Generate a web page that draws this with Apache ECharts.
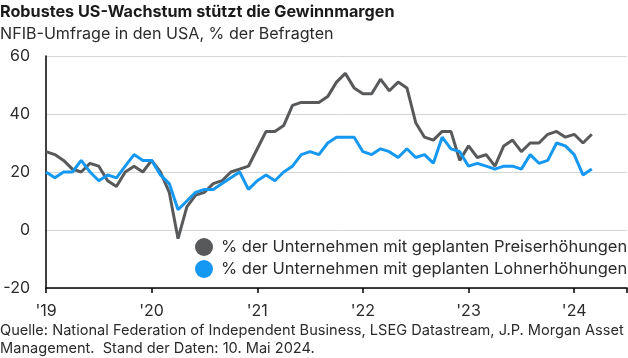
<!DOCTYPE html>
<html><head><meta charset="utf-8">
<script src="https://cdn.jsdelivr.net/npm/echarts@6/dist/echarts.min.js"></script>
<style>html,body{margin:0;padding:0;background:#fff}#c{width:628px;height:358px}</style>
</head><body><div id="c"></div>
<script>
// Monthly data, Jan 2019 .. Mar 2024
const yearLabels = ["'19", "'20", "'21", "'22", "'23", "'24"];
const priceHikes = [
  27, 26, 24, 21, 20, 23, 22, 17, 15, 20, 22, 20,
  24, 20, 13, -3, 8, 12, 13, 16, 17, 20, 21, 22,
  28, 34, 34, 36, 43, 44, 44, 44, 46, 51, 54, 49,
  47, 47, 52, 48, 51, 49, 37, 32, 31, 34, 34, 24,
  29, 25, 26, 22, 29, 31, 27, 30, 30, 33, 34, 32,
  33, 30, 33
];
const wageHikes = [
  20, 18, 20, 20, 24, 20, 17, 19, 18, 22, 26, 24,
  24, 19, 16, 7, 10, 13, 14, 14, 16, 18, 20, 14,
  17, 19, 17, 20, 22, 26, 27, 26, 30, 32, 32, 32,
  27, 26, 28, 27, 25, 28, 25, 26, 23, 32, 28, 27,
  22, 23, 22, 21, 22, 22, 21, 26, 23, 24, 30, 29,
  26, 19, 21
];
const seriesNames = [
  '% der Unternehmen mit geplanten Preiserhöhungen',
  '% der Unternehmen mit geplanten Lohnerhöhungen'
];
const titleText = 'Robustes US-Wachstum stützt die Gewinnmargen';
const subtitleText = 'NFIB-Umfrage in den USA, % der Befragten';
const sourceLines = [
  'Quelle: National Federation of Independent Business, LSEG Datastream, J.P. Morgan Asset',
  'Management.  Stand der Daten: 10. Mai 2024.'
];

const FONT = 'Inter';
const GRAY = '#58595b';
const BLUE = '#1598f2';
const TXT = '#2b2b2b';

const toPairs = arr => arr.map((v, i) => [i, v]);

const chart = echarts.init(document.getElementById('c'), null, {renderer: 'canvas'});
chart.setOption({
  animation: false,
  backgroundColor: '#fff',
  textStyle: {fontFamily: FONT},
  title: [
    {text: titleText, left: 0, top: 4, padding: 0, textStyle: {fontFamily: FONT, fontSize: 16.2, fontWeight: 'bold', color: '#1a1a1a'}},
    {text: subtitleText, left: 0, top: 26, padding: 0, textStyle: {fontFamily: FONT, fontSize: 16.1, fontWeight: 'normal', color: TXT}}
  ],
  grid: {left: 46, right: 1, top: 56, bottom: 70, containLabel: false},
  legend: {
    orient: 'vertical', left: 195, top: 238, padding: 0, itemWidth: 18, itemHeight: 18, itemGap: 4,
    icon: 'circle', textStyle: {fontFamily: FONT, fontSize: 16.5, color: TXT, padding: [0, 0, 0, 3]},
    data: seriesNames
  },
  xAxis: [
    {type: 'value', min: 0, max: 66, interval: 12, position: 'bottom',
     axisLine: {show: false}, axisTick: {show: false}, splitLine: {show: false},
     axisLabel: {fontFamily: FONT, fontSize: 16, color: TXT, margin: 15,
       showMaxLabel: false,
       formatter: v => yearLabels[Math.round(v / 12)] || ''}},
    {type: 'value', min: 0, max: 66, interval: 12, position: 'bottom',
     axisLine: {show: true, onZero: true, lineStyle: {color: '#000', width: 1.5}},
     axisTick: {show: true, inside: false, length: 5, lineStyle: {color: '#000', width: 1.5}},
     axisLabel: {show: false}, splitLine: {show: false}}
  ],
  yAxis: {
    type: 'value', min: -20, max: 60, interval: 20,
    axisLine: {show: true, lineStyle: {color: '#000', width: 1.5}},
    axisTick: {show: false},
    axisLabel: {fontFamily: FONT, fontSize: 16, color: TXT, margin: 16},
    splitLine: {show: true, lineStyle: {color: '#d6d6d6', width: 1}}
  },
  series: [
    {name: seriesNames[0], type: 'line', xAxisIndex: 0, data: toPairs(priceHikes), showSymbol: false,
     lineStyle: {color: GRAY, width: 3}, itemStyle: {color: GRAY}, z: 3},
    {name: seriesNames[1], type: 'line', xAxisIndex: 0, data: toPairs(wageHikes), showSymbol: false,
     lineStyle: {color: BLUE, width: 3}, itemStyle: {color: BLUE}, z: 4}
  ],
  graphic: sourceLines.map((t, i) => ({
    type: 'text', left: 0, top: 323 + i * 18,
    style: {text: t, fontFamily: FONT, fontSize: 14.6, fill: TXT}
  }))
});
</script></body></html>
